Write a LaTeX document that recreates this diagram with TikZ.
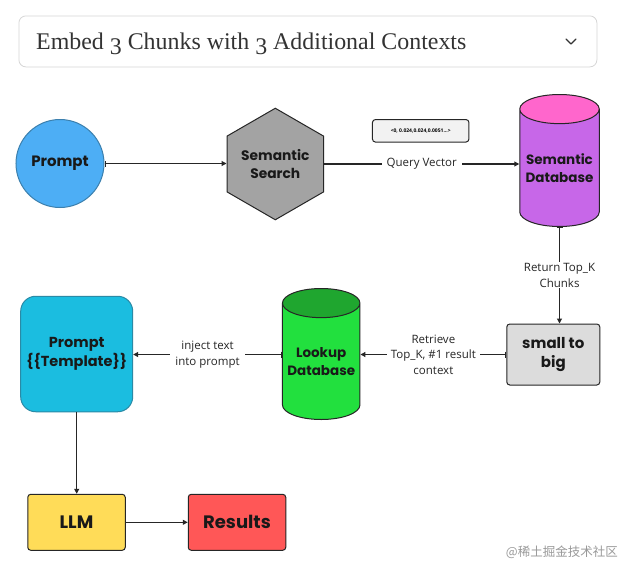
\documentclass[tikz,border=0pt]{standalone}
\usepackage{fontspec}
\setmainfont{Liberation Serif}
\newfontfamily\popfont{Poppins}
\newfontfamily\labfont{Open Sans}
\newfontfamily\cjkfont{Noto Sans CJK SC}
\usetikzlibrary{shapes.geometric,arrows.meta}
\definecolor{titleborder}{HTML}{D6D6D6}
\definecolor{titletext}{HTML}{333333}
\definecolor{promptblue}{HTML}{4DAEF5}
\definecolor{promptborder}{HTML}{3C80AE}
\definecolor{hexgray}{HTML}{A3A3A3}
\definecolor{dbpurple}{HTML}{C767E8}
\definecolor{dbpink}{HTML}{FF66CC}
\definecolor{vecfill}{HTML}{F2F2F2}
\definecolor{stbgray}{HTML}{DCDCDC}
\definecolor{lookgreen}{HTML}{22E03E}
\definecolor{lookdark}{HTML}{1FA62F}
\definecolor{tmplblue}{HTML}{1BBDE0}
\definecolor{tmplborder}{HTML}{2A8AA6}
\definecolor{llmyellow}{HTML}{FFDC58}
\definecolor{resred}{HTML}{FF5757}
\definecolor{edge}{HTML}{262626}
\begin{document}
\begin{tikzpicture}[x=1pt,y=-1pt,
  every node/.style={inner sep=0pt},
  nodetext/.style={font=\popfont\bfseries\fontsize{15}{19}\selectfont, align=center, text=black!90},
  dbtext/.style={font=\popfont\bfseries\fontsize{13.5}{18.5}\selectfont},
  bigtext/.style={font=\popfont\bfseries\fontsize{18}{22}\selectfont},
  lbl/.style={font=\labfont\fontsize{11.5}{15.5}\selectfont, align=center, fill=white, text=black!85, inner xsep=5pt, inner ysep=1pt},
  conn/.style={line width=1.1pt, draw=edge, -{Triangle[length=5pt,width=5pt]}},
  bconn/.style={line width=1.1pt, draw=edge, {Bar[width=6pt,line width=1pt]}-{Triangle[length=5pt,width=5pt]}},
  boxnode/.style={nodetext, draw=edge, line width=1pt, rounded corners=3pt},
  dbnode/.style={nodetext, dbtext, cylinder, shape border rotate=90, aspect=0.43, draw=edge, line width=1pt, cylinder uses custom fill, anchor=south},
]
\useasboundingbox (0,0) rectangle (619,568);
\fill[white] (0,0) rectangle (619,568);

% title / dropdown
\node[draw=titleborder, line width=0.8pt, rounded corners=7pt, minimum width=578, minimum height=51, anchor=north west] (title) at (18.5,15.5) {};
\node[anchor=base west, text=titletext, font=\fontsize{23.9}{28}\selectfont] (titletxt) at (36,49.3) {Embed \raisebox{-0.2em}{3} Chunks with \raisebox{-0.2em}{3} Additional Contexts};
\coordinate (chev) at (571,41.5);
\draw[line width=1.3pt, draw=titletext, line cap=round, line join=round] ([shift={(-5,-2.5)}]chev) -- ([shift={(0,2.5)}]chev) -- ([shift={(5,-2.5)}]chev);

% nodes
\node[nodetext, circle, draw=promptborder, line width=1pt, fill=promptblue, minimum size=88] (prompt) at (60,163.5) {Prompt};
\node[nodetext, regular polygon, regular polygon sides=6, shape border rotate=30, minimum size=106, fill=hexgray, draw=edge, line width=1pt, font=\popfont\bfseries\fontsize{13.8}{18.5}\selectfont] (search) at (275.3,164) {Semantic\\Search};
\node[dbnode, minimum height=132, minimum width=79.5, cylinder body fill=dbpurple, cylinder end fill=dbpink] (sdb) at (559.5,227) {Semantic\\Database};
\node[draw=edge, line width=1pt, rounded corners=3pt, fill=vecfill, minimum width=96.5, minimum height=22.5, font=\labfont\bfseries\fontsize{5}{6}\selectfont] (vec) at (420.7,130.8) {<0, 0.024,0.024,0.0051...>};
\node[boxnode, fill=stbgray, minimum width=93, minimum height=61] (stb) at (553.3,354.5) {small to\\big};
\node[dbnode, minimum height=131, minimum width=77.5, cylinder body fill=lookgreen, cylinder end fill=lookdark] (lookup) at (321.2,420) {Lookup\\Database};
\node[nodetext, draw=tmplborder, line width=1pt, fill=tmplblue, rounded corners=15pt, minimum width=112, minimum height=115.5, font=\popfont\bfseries\fontsize{14.5}{19}\selectfont] (tmpl) at (76.7,354) {Prompt\\\{\{Template\}\}};
\node[boxnode, bigtext, fill=llmyellow, minimum width=97.5, minimum height=56] (llm) at (76.5,522.3) {LLM};
\node[boxnode, bigtext, fill=resred, minimum width=97.5, minimum height=56] (res) at (237,522.3) {Results};

% connectors
\draw[bconn] (prompt.east) -- (search.west |- prompt.east);
\draw[conn] (search.east) -- node[lbl] (qv) {Query Vector} (search.east -| sdb.west);
\draw[bconn] (sdb.south) -- node[lbl] (rtk) {Return Top\_K\\Chunks} (sdb.south |- stb.north);
\draw[bconn] (stb.west) -- node[lbl, inner xsep=4pt] (ret) {Retrieve\\Top\_K, \#1 result\\context} (stb.west -| lookup.east);
\draw[bconn] (lookup.west |- stb.west) -- node[lbl] (inj) {inject text\\into prompt} (stb.west -| tmpl.east);
\draw[conn] (tmpl.south) -- (tmpl.south |- llm.north);
\draw[conn] (llm.east) -- (res.west);

% watermark
\node[anchor=east, text=black!40, font=\cjkfont\fontsize{12.5}{14}\selectfont] (wm) at (618,552) {@稀土掘金技术社区};
\end{tikzpicture}
\end{document}
